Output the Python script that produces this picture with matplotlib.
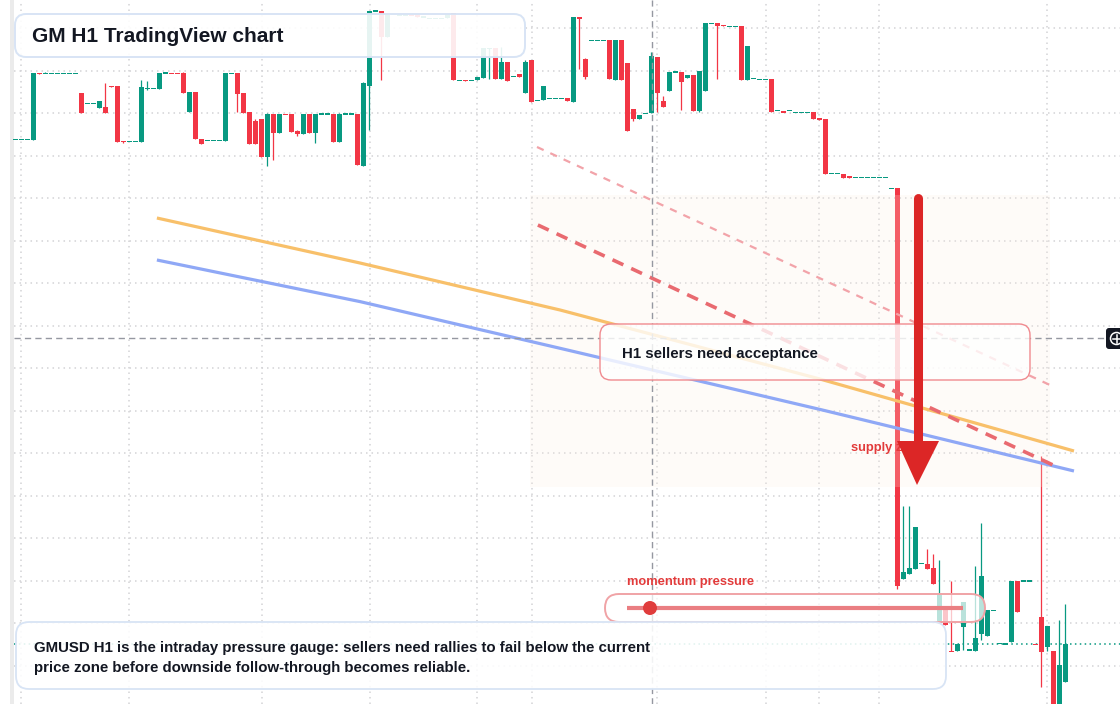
import numpy as np
import matplotlib.pyplot as plt
from matplotlib.patches import FancyBboxPatch, Polygon, Circle, Rectangle
from matplotlib.transforms import Affine2D

plt.rcParams['font.family'] = ['Liberation Sans', 'DejaVu Sans']

W, H = 1120, 704

# GM H1 candles (index = bar number), prices
opens = [
    86.07, 86.07, 86.07, 86.0, 92.7, 92.67, 92.67, 92.67, 92.67, 92.67,
    92.67, 90.73, 89.67, 89.67, 89.23, 89.3, 91.4, 91.4, 85.87, 85.87,
    85.87, 85.83, 91.13, 91.17, 91.13, 92.7, 92.73, 92.73, 92.7, 88.83,
    90.8, 86.13, 85.97, 85.97, 85.97, 85.9, 92.67, 92.7, 90.7, 88.8,
    87.9, 88.1, 84.33, 88.6, 86.73, 88.62, 88.6, 86.9, 86.63, 88.6,
    86.73, 88.6, 88.6, 88.6, 85.83, 88.6, 88.6, 88.6, 83.43, 91.43,
    98.9, 98.9, 96.33, 98.55, 98.5, 98.5, 98.52, 98.6, 98.3, 98.17,
    98.17, 98.17, 98.17, 98.67, 91.97, 91.99, 91.97, 92.0, 92.23, 95.17,
    95.17, 92.1, 93.77, 92.37, 92.6, 90.7, 94.0, 89.97, 89.97, 90.17,
    90.17, 90.17, 90.2, 89.8, 98.3, 94.07, 95.97, 95.97, 95.97, 96.0,
    92.0, 96.0, 93.73, 89.1, 88.07, 88.67, 88.67, 94.3, 89.9, 90.93,
    92.8, 92.8, 92.23, 92.5, 88.93, 90.93, 97.67, 97.67, 97.5, 97.37,
    97.37, 97.4, 92.0, 92.17, 92.07, 92.07, 92.1, 88.97, 88.86, 88.97,
    88.77, 88.77, 88.77, 88.77, 88.2, 88.1, 82.67, 82.67, 82.6, 82.4,
    82.27, 82.27, 82.27, 82.27, 82.27, 82.27, 81.17, 81.2, 42.1, 42.6,
    43.1, 43.67, 43.6, 43.23, 37.7, 39.3, 34.93, 34.93, 37.33, 35.0,
    34.93, 36.6, 36.43, 38.97, 35.67, 35.6, 35.83, 41.9, 41.9, 41.9,
    35.62, 38.3, 35.33, 34.9, 28.8, 31.83,
]
closes = [
    86.07, 86.07, 86.07, 92.73, 92.65, 92.67, 92.67, 92.67, 92.67, 92.67,
    92.67, 88.73, 89.67, 89.67, 89.9, 88.73, 91.27, 85.83, 85.83, 85.87,
    85.87, 91.33, 91.17, 91.17, 92.7, 92.7, 92.67, 92.67, 90.73, 90.8,
    86.13, 85.63, 85.97, 85.97, 85.97, 92.73, 92.67, 90.63, 88.73, 85.63,
    85.63, 84.33, 88.6, 86.73, 88.6, 88.58, 86.83, 86.63, 88.6, 86.73,
    88.6, 88.6, 88.6, 85.83, 88.6, 88.6, 88.6, 83.53, 91.7, 98.9,
    98.9, 96.27, 98.57, 98.55, 98.5, 98.5, 98.47, 98.33, 98.3, 98.17,
    98.17, 98.17, 98.6, 92.0, 91.97, 91.95, 91.97, 92.3, 95.17, 95.17,
    92.1, 93.77, 91.93, 92.37, 92.3, 93.8, 89.8, 89.97, 91.4, 90.17,
    90.17, 90.17, 89.93, 98.3, 98.2, 92.3, 95.97, 95.97, 95.97, 92.1,
    96.0, 92.0, 86.93, 88.07, 88.5, 88.67, 94.4, 90.73, 89.33, 92.8,
    92.8, 91.83, 92.5, 88.93, 92.9, 97.67, 97.67, 97.43, 97.44, 97.37,
    97.37, 92.0, 95.4, 92.17, 92.07, 92.07, 88.8, 88.97, 88.8, 88.97,
    88.77, 88.77, 88.77, 88.13, 88.0, 82.6, 82.67, 82.67, 82.2, 82.2,
    82.27, 82.27, 82.27, 82.27, 82.27, 82.27, 81.17, 41.4, 42.8, 43.2,
    47.3, 43.67, 43.1, 41.6, 40.5, 37.5, 34.87, 35.6, 39.83, 35.0,
    36.2, 42.4, 39.0, 38.97, 35.67, 35.6, 41.9, 38.83, 41.9, 41.9,
    35.58, 34.83, 37.4, 28.8, 33.5, 35.6,
]
# wick extremes beyond the body (bar index -> price)
wick_highs = {5: 92.8, 15: 91.7, 21: 91.97, 22: 91.9, 28: 92.83, 40: 88.1,
              42: 88.73, 47: 87.03, 54: 88.7, 58: 91.8, 81: 95.33, 85: 93.97,
              95: 94.2, 106: 94.83, 108: 90.4, 148: 49.4, 149: 49.4, 152: 45.1,
              153: 44.6, 154: 44.0, 156: 41.9, 160: 43.4, 161: 47.73,
              171: 54.4, 174: 38.0, 175: 39.6}
wick_lows = {18: 85.73, 22: 90.97, 37: 88.83, 42: 83.43, 43: 84.0, 47: 86.43,
             50: 85.73, 59: 87.0, 61: 92.0, 79: 92.1, 94: 93.1, 95: 92.1,
             103: 87.93, 107: 88.83, 111: 89.03, 114: 88.85, 117: 92.1,
             147: 41.13, 158: 35.0, 161: 36.0, 171: 31.33, 172: 34.93}

# moving averages (bar index, price)
ma_orange_x = [23.6, 57.45, 90.8, 134.1, 176.45]
ma_orange_y = [78.2, 73.7, 69.0, 62.1, 54.9]
ma_blue_x = [23.6, 57.45, 90.8, 134.1, 176.45]
ma_blue_y = [74.0, 69.84, 65.17, 59.06, 52.9]
# trend lines
trend_light = ([86.95, 172.8], [85.3, 61.4])
trend_dark = ([87.1, 172.95], [77.5, 53.5])

grid_prices = [97.2, 92.95, 88.7, 84.45, 80.2, 75.95, 71.7, 67.45, 63.2,
               58.95, 54.7, 50.45, 46.2, 41.95, 37.7, 33.45]
grid_bars = [0.95, 18.95, 41.1, 59.1, 76.95, 86.1, 106.95, 125.1, 133.95,
             143.95, 171.95]
cross_bar, cross_price = 106.1, 66.2
last_price = 35.6

GREEN, RED = '#089981', '#f23645'
DARK = '#131722'

fig = plt.figure(figsize=(W / 100, H / 100), dpi=100)
ax = fig.add_axes([0, 0, 1, 1])
x_left, x_right = -2.55, 184.12
ax.set_xlim(x_left, x_right)
ax.set_ylim(29.6, 100)
ax.axis('off')
px = Affine2D().scale(1 / W, -1 / H).translate(0, 1) + fig.transFigure
chart_x0 = -0.22  # pane starts right of the left strip

# grid
ax.hlines(grid_prices, chart_x0, x_right, color='#d3d3d6', lw=1.1, ls=(0, (1, 2.6)), zorder=1)
for g in grid_bars:
    ax.axvline(g, color='#d3d3d6', lw=1.1, ls=(0, (1, 2.6)), zorder=1)
ax.add_patch(Rectangle((10, 0), 4, H, transform=px, color='#ebebeb', lw=0, zorder=1))

# candles
o = np.array(opens)
c = np.array(closes)
idx = np.arange(len(o))
up = c >= o
cols = np.where(up, GREEN, RED)
hi = np.array([wick_highs.get(i, max(o[i], c[i])) for i in idx])
lo = np.array([wick_lows.get(i, min(o[i], c[i])) for i in idx])
ax.vlines(idx, lo, hi, colors=cols, lw=0.9, zorder=3)
flat = np.abs(c - o) < 0.13
body = np.where(flat, 0.13, np.abs(c - o))
ax.bar(idx, body, bottom=np.minimum(o, c) - np.where(flat, 0.065, 0), width=0.83,
       color=cols, lw=0, zorder=3)

# last price line
ax.hlines(last_price, chart_x0, x_right, color=GREEN, lw=1.1, ls=(0, (1, 2.2)), zorder=2)

# supply zone shading
ax.add_patch(Rectangle((530, 195), 520, 292, transform=px, facecolor='#fcefe2',
                       alpha=0.22, lw=0, zorder=4))

# averages and trend lines
ax.plot(ma_orange_x, ma_orange_y, color='#f8c06a', lw=2.3, zorder=5, solid_capstyle='butt')
ax.plot(ma_blue_x, ma_blue_y, color='#8fa8f6', lw=2.3, zorder=5, solid_capstyle='butt')
ax.plot(*trend_light, color='#f2a3a9', lw=1.6, ls=(0, (3.3, 3.3)), zorder=5)
ax.plot(*trend_dark, color='#e96a70', lw=2.6, ls=(0, (3.3, 2.4)), zorder=5)

# crosshair
ax.axvline(cross_bar, color='#9598a1', lw=1, ls=(0, (4.5, 3)), zorder=6)
ax.hlines(cross_price, chart_x0, 181.8, color='#9598a1', lw=1, ls=(0, (4.5, 3)), zorder=6)
ax.add_patch(FancyBboxPatch((1106, 328), 20, 21, boxstyle='round,pad=0,rounding_size=3',
                            transform=px, facecolor='#131722', lw=0, zorder=20))
ax.add_patch(Circle((1116.5, 338.5), 6, transform=px, fill=False, ec='white', lw=1.1, zorder=21))
ax.plot([1112.5, 1120.5], [338.5, 338.5], transform=px, color='white', lw=1.1, zorder=21)
ax.plot([1116.5, 1116.5], [334.5, 342.5], transform=px, color='white', lw=1.1, zorder=21)


def card(x0, y0, x1, y1, r, fill_alpha, ec, lw, z):
    ax.add_patch(FancyBboxPatch((x0, y0), x1 - x0, y1 - y0,
                                boxstyle=f'round,pad=0,rounding_size={r}', transform=px,
                                facecolor=(1, 1, 1, fill_alpha), edgecolor=ec, lw=lw, zorder=z))


# H1 sellers box
card(600, 324, 1030, 380, 11, 0.8, '#f08a8f', 1.0, 7)
ax.text(622, 354, 'H1 sellers need acceptance', transform=px, fontsize=10.8,
        fontweight='bold', color=DARK, va='center', zorder=8)

# supply label and arrow
ax.text(851, 448, 'supply zone', transform=px, fontsize=9.3, fontweight='bold',
        color='#e23b3b', va='center', zorder=8)
ax.plot([918, 918], [198, 444], transform=px, color='#dc2626', lw=6.5,
        solid_capstyle='round', zorder=9)
ax.add_patch(Polygon([(897, 441), (939, 441), (917, 485)], closed=True, transform=px,
                     facecolor='#dc2626', lw=0, zorder=9))

# momentum gauge
ax.text(627, 582, 'momentum pressure', transform=px, fontsize=9.3, fontweight='bold',
        color='#e23b3b', va='center', zorder=12)
card(605, 594, 985, 622, 14, 0.72, '#f0a3a6', 1.4, 11)
ax.plot([627, 963], [608, 608], transform=px, color='#ea7e82', lw=3, zorder=12,
        solid_capstyle='butt')
ax.add_patch(Circle((650, 608), 7, transform=px, facecolor='#e03c3c', lw=0, zorder=13))

# bottom note
card(16, 622, 946, 689, 13, 0.88, '#d8e4f5', 1.3, 14)
ax.text(34, 648, 'GMUSD H1 is the intraday pressure gauge: sellers need rallies to fail below the current',
        transform=px, fontsize=10.85, fontweight='bold', color=DARK, va='center', zorder=15)
ax.text(34, 668, 'price zone before downside follow-through becomes reliable.',
        transform=px, fontsize=10.85, fontweight='bold', color=DARK, va='center', zorder=15)

# title
card(15, 14, 525, 57, 11, 0.9, '#d8e4f5', 1.4, 16)
ax.text(32, 36, 'GM H1 TradingView chart', transform=px, fontsize=15, fontweight='bold',
        color=DARK, va='center', zorder=17)

fig.savefig('out.png', dpi=100)
